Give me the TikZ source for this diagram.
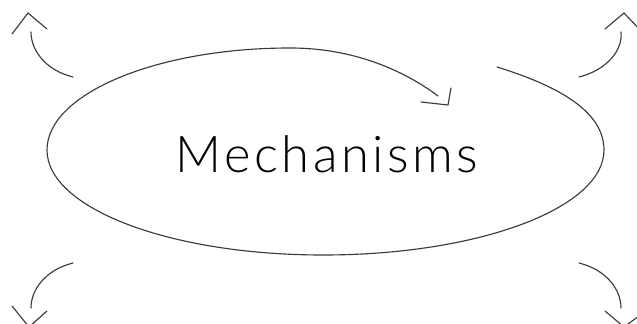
\documentclass[tikz,border=0pt]{standalone}
\usepackage{fontspec}
\newfontfamily\lightfont{Lato Light}[LetterSpace=7]
\begin{document}
\begin{tikzpicture}[x=0.75pt,y=-0.75pt,
  stroke/.style={draw=inkgray,line width=0.85pt,line cap=round,line join=miter},
  title/.style={font=\lightfont\fontsize{38}{40}\selectfont,text=black,inner sep=0pt,anchor=base}]
\definecolor{inkgray}{HTML}{3A3A3A}
\useasboundingbox (0,0) rectangle (637,324);
\clip (0,0) rectangle (637,324);
% main spiral
\coordinate (s) at (497,67);
\coordinate (r) at (604,150);
\coordinate (b) at (323,255);
\coordinate (l) at (47,150);
\coordinate (t) at (290,48);
\coordinate (e) at (438,96);
\coordinate (etip) at (448,105);
\draw[stroke] (s) .. controls (555,85) and (604,110) .. (r)
  .. controls (604,208) and (479,255) .. (b)
  .. controls (169,255) and (47,208) .. (l)
  .. controls (47,94) and (156,48) .. (t)
  .. controls (360,48) and (410,75) .. (e);
\draw[stroke] (421,102) -- (etip) -- (451,88);
% top-left
\coordinate (tla) at (73,77);
\coordinate (tlb) at (31,32);
\coordinate (tltip) at (28,13);
\draw[stroke] (tla) .. controls (45,70) and (31,50) .. (tlb);
\draw[stroke] (12,34) -- (tltip) -- (47,29);
% top-right
\coordinate (tra) at (579,77);
\coordinate (trb) at (621,32);
\coordinate (trtip) at (624,13);
\draw[stroke] (tra) .. controls (607,70) and (623,50) .. (trb);
\draw[stroke] (605,29) -- (trtip) -- (643,33);
% bottom-left
\coordinate (bla) at (73,263);
\coordinate (blb) at (31,308);
\coordinate (bltip) at (29,327);
\draw[stroke] (bla) .. controls (45,270) and (31,290) .. (blb);
\draw[stroke] (12,306) -- (bltip) -- (47,311);
% bottom-right
\coordinate (bra) at (579,263);
\coordinate (brb) at (621,308);
\coordinate (brtip) at (624,327);
\draw[stroke] (bra) .. controls (607,270) and (621,290) .. (brb);
\draw[stroke] (605,311) -- (brtip) -- (643,313);
% label
\node[title] (label) at (327,173) {Mechanisms};
\end{tikzpicture}
\end{document}
